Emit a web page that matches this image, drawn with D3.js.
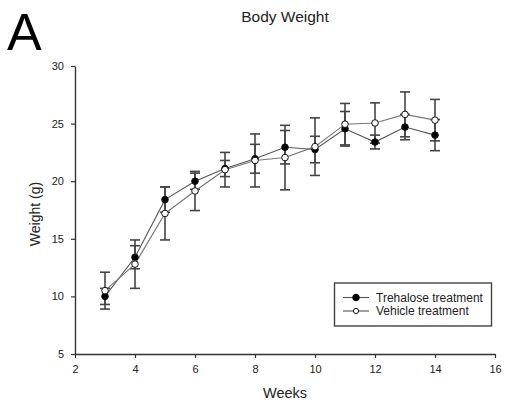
<!DOCTYPE html>
<html>
<head>
<meta charset="utf-8">
<script src="https://cdn.jsdelivr.net/npm/d3@7"></script>
<style>
  html, body { margin: 0; padding: 0; background: #fff; }
  svg { display: block; font-family: "Liberation Sans", Arial, sans-serif; }
</style>
</head>
<body>
<svg id="chart" width="505" height="410"></svg>
<script>
// Body weight over time, mean ± error per week
const weeks = [3, 4, 5, 6, 7, 8, 9, 10, 11, 12, 13, 14];
const trehalose    = [10.0, 13.4, 18.4, 20.0, 21.1, 21.95, 22.95, 22.75, 24.55, 23.4, 24.7, 24.0];
const trehaloseErr = [0.7, 1.0, 1.1, 0.7, 0.7, 1.25, 1.45, 1.15, 1.5, 0.6, 1.1, 1.35];
const vehicle      = [10.5, 12.8, 17.2, 19.15, 21.0, 21.8, 22.05, 23.0, 24.95, 25.05, 25.8, 25.3];
const vehicleErr   = [1.6, 2.1, 2.3, 1.7, 1.5, 2.3, 2.8, 2.5, 1.8, 1.75, 1.95, 1.8];
const xTicks = [2, 4, 6, 8, 10, 12, 14, 16];
const yTicks = [5, 10, 15, 20, 25, 30];
const seriesNames = ["Trehalose treatment", "Vehicle treatment"];

const svg = d3.select("#chart");

const x = d3.scaleLinear().domain([2, 16]).range([75, 495]);
const y = d3.scaleLinear().domain([5, 30]).range([354, 66]);

const axisColor = "#333";

// Panel letter
svg.append("text")
  .attr("x", 7).attr("y", 50)
  .attr("font-size", 52)
  .attr("fill", "#000")
  .text("A");

// Title
svg.append("text")
  .attr("x", 285).attr("y", 22)
  .attr("text-anchor", "middle")
  .attr("font-size", 15.5)
  .attr("fill", "#222")
  .text("Body Weight");

// Axes
const yAxis = svg.append("g")
  .attr("transform", `translate(${x(2)},0)`)
  .call(d3.axisLeft(y).tickValues(yTicks).tickSize(4).tickSizeOuter(0).tickPadding(7));
const xAxis = svg.append("g")
  .attr("transform", `translate(0,${y(5)})`)
  .call(d3.axisBottom(x).tickValues(xTicks).tickSize(4).tickSizeOuter(0).tickPadding(7));

[yAxis, xAxis].forEach(g => {
  g.select(".domain").attr("stroke", axisColor).attr("stroke-width", 1.4);
  g.selectAll(".tick line").attr("stroke", axisColor).attr("stroke-width", 1.2);
  g.selectAll(".tick text")
    .attr("font-size", 11)
    .attr("font-family", "Liberation Sans, Arial, sans-serif")
    .attr("fill", "#222");
});

// Axis titles
svg.append("text")
  .attr("transform", `translate(40,${(y(5) + y(30)) / 2 + 4}) rotate(-90)`)
  .attr("text-anchor", "middle")
  .attr("font-size", 14)
  .attr("fill", "#222")
  .text("Weight (g)");

svg.append("text")
  .attr("x", 285).attr("y", 398)
  .attr("text-anchor", "middle")
  .attr("font-size", 14.5)
  .attr("fill", "#222")
  .text("Weeks");

const series = [
  { name: seriesNames[0], values: trehalose, errs: trehaloseErr, fill: "#000", line: "#555" },
  { name: seriesNames[1], values: vehicle, errs: vehicleErr, fill: "#fff", line: "#777" }
];

const plot = svg.append("g");

// Error bars
series.forEach(s => {
  const g = plot.append("g").attr("stroke", "#444").attr("stroke-width", 1.6).attr("fill", "none");
  weeks.forEach((w, i) => {
    const cx = x(w);
    const top = y(s.values[i] + s.errs[i]);
    const bot = y(s.values[i] - s.errs[i]);
    g.append("line").attr("x1", cx).attr("x2", cx).attr("y1", top).attr("y2", bot);
    g.append("line").attr("x1", cx - 5).attr("x2", cx + 5).attr("y1", top).attr("y2", top);
    g.append("line").attr("x1", cx - 5).attr("x2", cx + 5).attr("y1", bot).attr("y2", bot);
  });
});

// Lines and markers
const line = d3.line().x((d, i) => x(weeks[i])).y(d => y(d));
series.forEach(s => {
  plot.append("path")
    .datum(s.values)
    .attr("d", line)
    .attr("fill", "none")
    .attr("stroke", s.line)
    .attr("stroke-width", 1.1);
});
series.forEach(s => {
  plot.append("g").selectAll("circle")
    .data(s.values)
    .join("circle")
    .attr("cx", (d, i) => x(weeks[i]))
    .attr("cy", d => y(d))
    .attr("r", 3.3)
    .attr("fill", s.fill)
    .attr("stroke", "#111")
    .attr("stroke-width", 1);
});

// Legend
const legend = svg.append("g");
legend.append("rect")
  .attr("x", 334.5).attr("y", 283)
  .attr("width", 157).attr("height", 43)
  .attr("fill", "#fff")
  .attr("stroke", "#444")
  .attr("stroke-width", 1.4);
series.forEach((s, i) => {
  const ly = 297.5 + i * 13.5;
  legend.append("line")
    .attr("x1", 343).attr("x2", 369)
    .attr("y1", ly).attr("y2", ly)
    .attr("stroke", "#555").attr("stroke-width", 1.1);
  legend.append("circle")
    .attr("cx", 356).attr("cy", ly)
    .attr("r", i === 0 ? 3.3 : 2.6)
    .attr("fill", s.fill)
    .attr("stroke", "#111").attr("stroke-width", 1);
  legend.append("text")
    .attr("x", 376).attr("y", ly + 4.3)
    .attr("font-size", 12)
    .attr("fill", "#222")
    .text(s.name);
});
</script>
</body>
</html>
